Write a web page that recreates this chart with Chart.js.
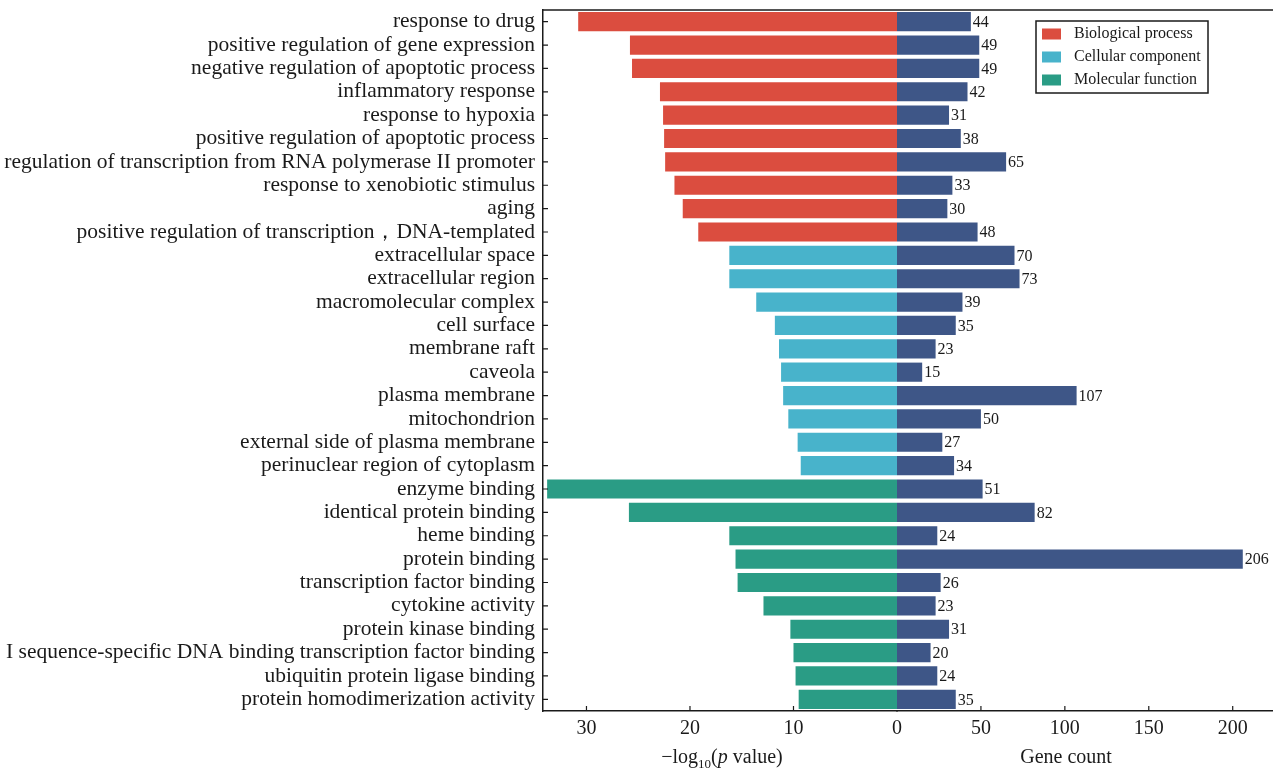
<!DOCTYPE html>
<html>
<head>
<meta charset="utf-8">
<script src="https://cdn.jsdelivr.net/npm/chart.js@4.4.0/dist/chart.umd.min.js"></script>
<style>
  html, body { margin: 0; padding: 0; background: #fff; }
  #wrap { position: relative; width: 1273px; height: 768px; }
</style>
</head>
<body>
<div id="wrap"><canvas id="goChart" width="1273" height="768"></canvas></div>
<script>
// GO terms, top to bottom
const terms = [
    'response to drug',
    'positive regulation of gene expression',
    'negative regulation of apoptotic process',
    'inflammatory response',
    'response to hypoxia',
    'positive regulation of apoptotic process',
    'regulation of transcription from RNA polymerase II promoter',
    'response to xenobiotic stimulus',
    'aging',
    'positive regulation of transcription，DNA-templated',
    'extracellular space',
    'extracellular region',
    'macromolecular complex',
    'cell surface',
    'membrane raft',
    'caveola',
    'plasma membrane',
    'mitochondrion',
    'external side of plasma membrane',
    'perinuclear region of cytoplasm',
    'enzyme binding',
    'identical protein binding',
    'heme binding',
    'protein binding',
    'transcription factor binding',
    'cytokine activity',
    'protein kinase binding',
    'I sequence-specific DNA binding transcription factor binding',
    'ubiquitin protein ligase binding',
    'protein homodimerization activity'
];

// -log10(p value)
const pValues = [30.8, 25.8, 25.6, 22.9, 22.6, 22.5, 22.4, 21.5, 20.7, 19.2,
                 16.2, 16.2, 13.6, 11.8, 11.4, 11.2, 11.0, 10.5, 9.6, 9.3,
                 33.8, 25.9, 16.2, 15.6, 15.4, 12.9, 10.3, 10.0, 9.8, 9.5];

// gene count per term (right panel)
const geneCounts = [44, 49, 49, 42, 31, 38, 65, 33, 30, 48,
                    70, 73, 39, 35, 23, 15, 107, 50, 27, 34,
                    51, 82, 24, 206, 26, 23, 31, 20, 24, 35];

// GO category of each term (0 = BP, 1 = CC, 2 = MF)
const groupOf = [0,0,0,0,0,0,0,0,0,0, 1,1,1,1,1,1,1,1,1,1, 2,2,2,2,2,2,2,2,2,2];
const groupNames = ['Biological process', 'Cellular component', 'Molecular function'];
const groupColors = ['#db4d3f', '#48b3cb', '#2a9c85'];
const countColor = '#3e5687';

const leftTicks = [0, 10, 20, 30];
const rightTicks = [0, 50, 100, 150, 200];

const SERIF = '"Liberation Serif", "Times New Roman", serif';
const INK = '#1a1a1a';

// titles, inward tick marks, value labels, legend, top frame line
const decorPlugin = {
    id: 'decor',
    afterDraw(chart) {
        const ctx = chart.ctx;
        const area = chart.chartArea;
        const xL = chart.scales.xL, xR = chart.scales.xR, y = chart.scales.y;
        ctx.save();
        ctx.strokeStyle = INK;
        ctx.lineWidth = 1.5;

        // top frame line
        ctx.beginPath();
        ctx.moveTo(area.left, area.top);
        ctx.lineTo(chart.width, area.top);
        ctx.stroke();

        // inward ticks
        ctx.lineWidth = 1.2;
        ctx.beginPath();
        terms.forEach((t, i) => {
            const py = y.getPixelForValue(i);
            ctx.moveTo(area.left, py);
            ctx.lineTo(area.left + 5, py);
        });
        leftTicks.filter(v => v > 0).forEach(v => {
            const px = xL.getPixelForValue(v);
            ctx.moveTo(px, area.bottom);
            ctx.lineTo(px, area.bottom - 5);
        });
        rightTicks.filter(v => v > 0).forEach(v => {
            const px = xR.getPixelForValue(v);
            ctx.moveTo(px, area.bottom);
            ctx.lineTo(px, area.bottom - 5);
        });
        ctx.stroke();

        // gene count labels
        ctx.fillStyle = INK;
        ctx.font = '16px ' + SERIF;
        ctx.textAlign = 'left';
        ctx.textBaseline = 'middle';
        const meta = chart.getDatasetMeta(1);
        meta.data.forEach((bar, i) => {
            ctx.fillText(String(geneCounts[i]), bar.x + 2, bar.y + 1);
        });

        // axis titles
        ctx.textBaseline = 'alphabetic';
        const base = 763;
        const parts = [
            {t: '\u2212log', f: '20px ' + SERIF, dy: 0},
            {t: '10', f: '13px ' + SERIF, dy: 5},
            {t: '(', f: '20px ' + SERIF, dy: 0},
            {t: 'p', f: 'italic 20px ' + SERIF, dy: 0},
            {t: ' value)', f: '20px ' + SERIF, dy: 0}
        ];
        let total = 0;
        parts.forEach(p => { ctx.font = p.f; p.w = ctx.measureText(p.t).width; total += p.w; });
        let cx = 722 - total / 2;
        parts.forEach(p => {
            ctx.font = p.f;
            ctx.fillText(p.t, cx, base + p.dy);
            cx += p.w;
        });
        ctx.font = '20px ' + SERIF;
        ctx.textAlign = 'center';
        ctx.fillText('Gene count', 1066, base);

        // legend
        ctx.lineWidth = 1.5;
        ctx.strokeRect(1036, 21, 172, 72);
        ctx.font = '16px ' + SERIF;
        ctx.textAlign = 'left';
        ctx.textBaseline = 'middle';
        groupNames.forEach((name, i) => {
            const ly = 34 + i * 23;
            ctx.fillStyle = groupColors[i];
            ctx.fillRect(1042, ly - 5.5, 19, 11);
            ctx.fillStyle = INK;
            ctx.fillText(name, 1074, ly);
        });
        ctx.restore();
    }
};

function createChart() {
    const ctx = document.getElementById('goChart').getContext('2d');
    new Chart(ctx, {
        type: 'bar',
        data: {
            labels: terms,
            datasets: [
                {
                    label: '-log10(p value)',
                    data: pValues,
                    xAxisID: 'xL',
                    backgroundColor: groupOf.map(g => groupColors[g]),
                    grouped: false,
                    borderWidth: 0
                },
                {
                    label: 'Gene count',
                    data: geneCounts,
                    xAxisID: 'xR',
                    backgroundColor: countColor,
                    grouped: false,
                    borderWidth: 0
                }
            ]
        },
        options: {
            indexAxis: 'y',
            responsive: false,
            animation: false,
            categoryPercentage: 0.82,
            barPercentage: 1,
            layout: { padding: { top: 10, left: 0, right: 0, bottom: 0 } },
            plugins: {
                legend: { display: false },
                tooltip: { enabled: false }
            },
            scales: {
                xL: {
                    type: 'linear',
                    position: 'bottom',
                    stack: 'x',
                    stackWeight: 354,
                    reverse: true,
                    min: 0,
                    max: 34.2,
                    afterFit: s => { s.height = 57; s.paddingLeft = 0; s.paddingRight = 0; },
                    afterBuildTicks: s => { s.ticks = leftTicks.map(v => ({value: v})); },
                    grid: { display: false, drawTicks: false },
                    border: { display: true, color: INK, width: 1.5 },
                    ticks: {
                        includeBounds: false,
                        padding: 6,
                        color: INK,
                        font: { family: SERIF, size: 20 }
                    }
                },
                xR: {
                    type: 'linear',
                    position: 'bottom',
                    stack: 'x',
                    stackWeight: 376,
                    min: 0,
                    max: 224,
                    afterFit: s => { s.height = 57; s.paddingLeft = 0; s.paddingRight = 0; },
                    afterBuildTicks: s => { s.ticks = rightTicks.map(v => ({value: v})); },
                    grid: { display: false, drawTicks: false },
                    border: { display: true, color: INK, width: 1.5 },
                    ticks: {
                        includeBounds: false,
                        padding: 6,
                        color: INK,
                        font: { family: SERIF, size: 20 },
                        callback: v => (v === 0 ? '' : v)
                    }
                },
                y: {
                    type: 'category',
                    position: 'left',
                    afterFit: s => { s.width = 543; s.paddingTop = 0; s.paddingBottom = 0; },
                    grid: { display: false, drawTicks: false },
                    border: { display: true, color: INK, width: 1.5 },
                    ticks: {
                        autoSkip: false,
                        padding: 8,
                        color: INK,
                        font: { family: SERIF, size: 21.5 }
                    }
                }
            }
        },
        plugins: [decorPlugin]
    });
}

createChart();
</script>
</body>
</html>
